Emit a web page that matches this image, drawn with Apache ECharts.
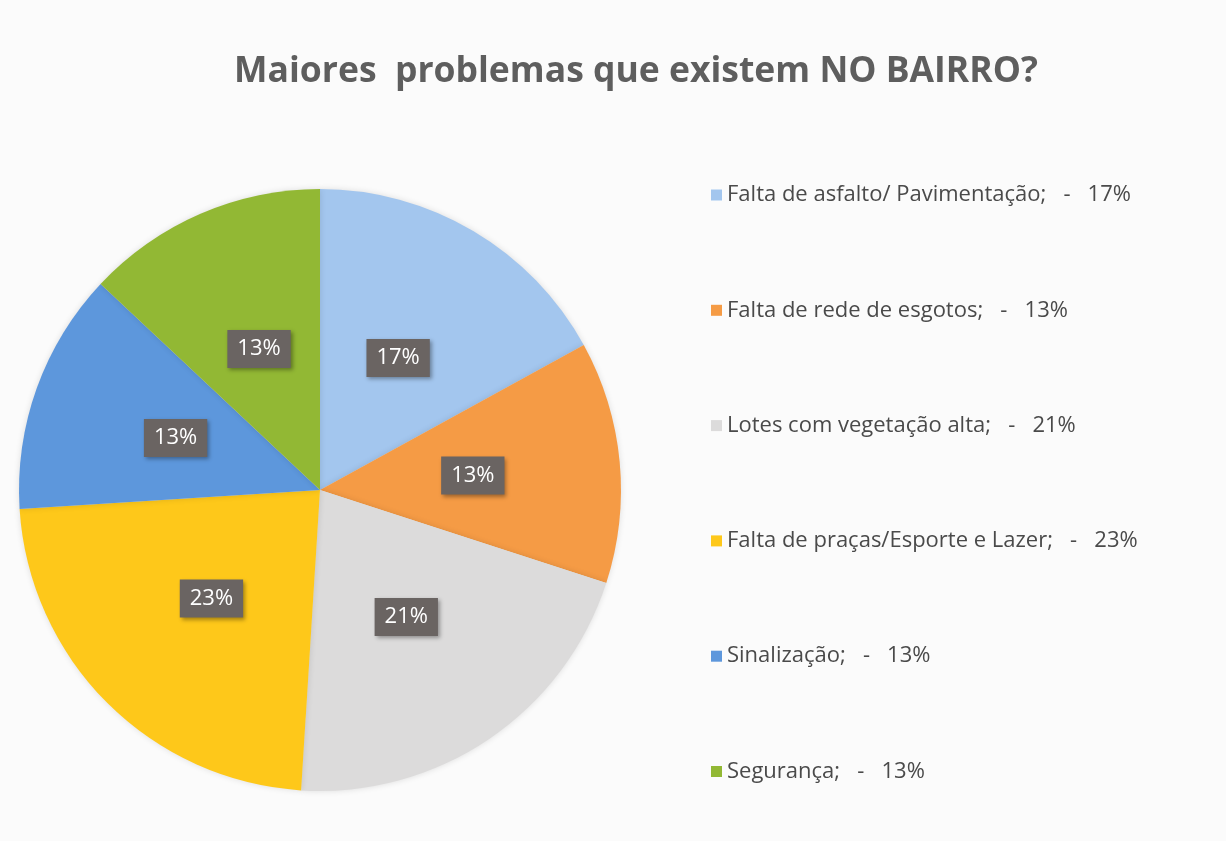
<!DOCTYPE html>
<html>
<head>
<meta charset="utf-8">
<script src="https://cdn.jsdelivr.net/npm/echarts@6/dist/echarts.min.js"></script>
<style>
  html, body { margin: 0; padding: 0; background: #fbfbfb; }
  #main { width: 1226px; height: 841px; }
</style>
</head>
<body>
<div id="main"></div>
<script>
const categories = [
  "Falta de asfalto/ Pavimentação",
  "Falta de rede de esgotos",
  "Lotes com vegetação alta",
  "Falta de praças/Esporte e Lazer",
  "Sinalização",
  "Segurança",
];
const percents = [17, 13, 21, 23, 13, 13];
const colors = ["#a3c6ee", "#f59b45", "#dcdbdb", "#fec81a", "#5d97dc", "#92b834"];

const chart = echarts.init(document.getElementById("main"));

const option = {
  backgroundColor: "#fbfbfb",
  color: colors,
  title: {
    text: "Maiores  problemas que existem NO BAIRRO?",
    left: 631,
    top: 49,
    textAlign: "center",
    textStyle: {
      fontFamily: "Open Sans",
      fontSize: 35.5,
      fontWeight: "bold",
      color: "#5e5e5e",
    },
  },
  legend: {
    orient: "vertical",
    left: 706,
    top: 179,
    itemWidth: 11,
    itemHeight: 11,
    itemGap: 93.3,
    icon: "rect",
    textStyle: {
      fontFamily: "Open Sans",
      fontSize: 22,
      color: "#4a4a4a",
    },
    formatter: function (name) {
      const i = categories.indexOf(name);
      return name + ";   -   " + percents[i] + "%";
    },
  },
  series: [
    {
      type: "pie",
      center: [320, 490],
      radius: 301,
      startAngle: 90,
      clockwise: true,
      avoidLabelOverlap: false,
      itemStyle: {
        shadowColor: "rgba(0,0,0,0.12)",
        shadowBlur: 6,
      },
      label: {
        show: true,
        position: "inside",
        formatter: "{c}%",
        fontFamily: "Open Sans",
        fontSize: 22,
        color: "#ffffff",
        backgroundColor: "#6a6462",
        padding: [9, 10, 7, 10],
        shadowColor: "rgba(0,0,0,0.35)",
        shadowBlur: 4,
        shadowOffsetX: 2,
        shadowOffsetY: 2,
      },
      labelLine: { show: false },
      data: categories.map((name, i) => ({ name: name, value: percents[i] })),
    },
  ],
};

chart.setOption(option);
</script>
</body>
</html>
